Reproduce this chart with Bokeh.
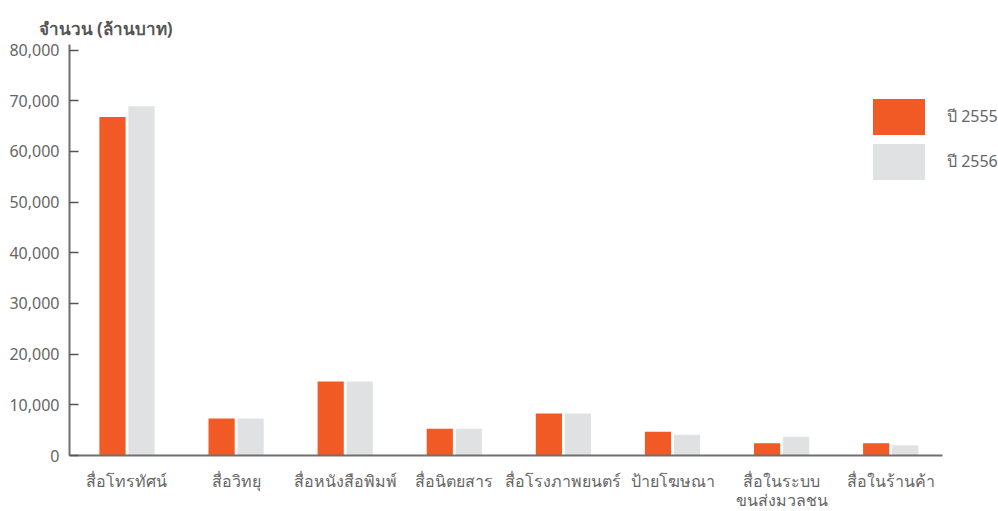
import numpy as np
from bokeh.plotting import figure
from bokeh.models import ColumnDataSource, FixedTicker, NumeralTickFormatter, Legend, LegendItem, Range1d, Title
from bokeh.transform import dodge
from bokeh.embed import file_html
from bokeh.resources import INLINE

categories = ["สื่อโทรทัศน์", "สื่อวิทยุ", "สื่อหนังสือพิมพ์", "สื่อนิตยสาร",
              "สื่อโรงภาพยนตร์", "ป้ายโฆษณา", "สื่อในระบบ\nขนส่งมวลชน", "สื่อในร้านค้า"]
values_2555 = [66800, 7300, 14600, 5300, 8300, 4700, 2400, 2400]
values_2556 = [68900, 7300, 14600, 5300, 8300, 4100, 3700, 2000]
series_names = ["ปี 2555", "ปี 2556"]
y_ticks = [0, 10000, 20000, 30000, 40000, 50000, 60000, 70000, 80000]

ORANGE = "#F15A24"
GRAY = "#E0E1E3"
TEXT = "#666666"
FONT = "Noto Sans"

idx = np.arange(len(categories))
src = ColumnDataSource(dict(x=idx, a=values_2555, b=values_2556))

X0, X1 = -0.527, 7.475
p = figure(width=998, height=511, output_backend="svg", toolbar_location=None,
           x_range=Range1d(X0, 7.988), y_range=Range1d(0, 81100),
           min_border_left=69, min_border_right=0, min_border_top=44, min_border_bottom=56)
p.frame_width = 929
p.frame_height = 411

r1 = p.vbar(x=dodge("x", -0.133), top="a", width=0.24, source=src, fill_color=ORANGE, line_color=None)
r2 = p.vbar(x=dodge("x", 0.133), top="b", width=0.24, source=src, fill_color=GRAY, line_color=None)

p.xgrid.visible = False
p.ygrid.visible = False
p.outline_line_color = None

xa = p.xaxis[0]
xa.ticker = FixedTicker(ticks=list(idx))
xa.bounds = (X0, X1)
xa.major_label_overrides = {int(i): c for i, c in zip(idx, categories)}
xa.major_tick_line_color = None
xa.minor_tick_line_color = None
xa.axis_line_color = "#6f6f6f"
xa.axis_line_width = 2
xa.major_label_text_font = FONT
xa.major_label_text_font_size = "16px"
xa.major_label_text_color = TEXT
xa.major_label_text_line_height = 0.9
xa.major_label_standoff = 8

ya = p.yaxis[0]
ya.ticker = FixedTicker(ticks=y_ticks)
ya.formatter = NumeralTickFormatter(format="0,0")
ya.major_tick_in = 9
ya.major_tick_out = 0
ya.major_tick_line_color = "#555555"
ya.major_tick_line_width = 1.5
ya.minor_tick_line_color = None
ya.axis_line_color = "#6f6f6f"
ya.axis_line_width = 2
ya.major_label_text_font = FONT
ya.major_label_text_font_size = "16px"
ya.major_label_text_color = TEXT
ya.major_label_standoff = 10

p.title = Title(text="จำนวน (ล้านบาท)", text_font=FONT, text_font_size="17px",
                text_font_style="bold", text_color="#555555", offset=-31, standoff=10)

legend = Legend(items=[LegendItem(label=series_names[0], renderers=[r1]),
                       LegendItem(label=series_names[1], renderers=[r2])],
                location=(797, 271), glyph_width=65, glyph_height=45, spacing=0,
                padding=0, margin=0, border_line_color=None, background_fill_alpha=0,
                label_text_font=FONT, label_text_font_size="16px", label_text_color=TEXT,
                label_standoff=16)
p.add_layout(legend, "center")

open("out.html", "w").write(file_html(p, INLINE))
